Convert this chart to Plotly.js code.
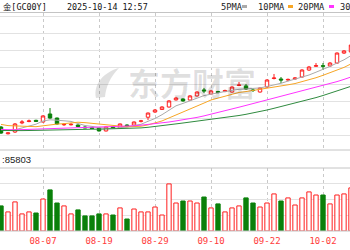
<!DOCTYPE html>
<html><head><meta charset="utf-8">
<script src="https://cdn.plot.ly/plotly-3.0.1.min.js"></script>
<style>html,body{margin:0;padding:0;background:#fff;}#chart{width:350px;height:250px;}</style>
</head><body><div id="chart"></div>
<script>
// ---- data ----
const dates = ['07-30','07-31','08-01','08-04','08-05','08-06','08-07','08-08','08-11','08-12','08-13','08-14','08-15','08-18','08-19','08-20','08-21','08-22','08-25','08-26','08-27','08-28','08-29','09-01','09-02','09-03','09-04','09-05','09-08','09-09','09-10','09-11','09-12','09-15','09-16','09-17','09-18','09-19','09-22','09-23','09-24','09-25','09-26','09-29','09-30','10-01','10-02','10-03','10-06','10-07','10-08'];
const tickDates = ['08-07','08-19','08-29','09-10','09-22','10-02'];
const open  = [3361,3303,3318,3396,3408,3418,3404,3473,3438,3380,3380,3378,3361,3354,3352,3327,3361,3352,3378,3378,3410,3445,3490,3512,3533,3594,3602,3593,3628,3680,3645,3666,3666,3662,3718,3714,3679,3662,3705,3778,3774,3765,3774,3791,3851,3884,3888,3886,3911,3997,4006];
const high  = [3370,3316,3395,3420,3425,3424,3462,3524,3442,3395,3396,3384,3367,3360,3356,3365,3366,3391,3384,3409,3422,3486,3516,3540,3592,3620,3608,3636,3668,3697,3680,3672,3682,3712,3748,3731,3696,3702,3772,3817,3791,3778,3790,3858,3886,3911,3911,3920,4003,4023,4075];
const low   = [3301,3297,3310,3385,3402,3405,3400,3432,3380,3370,3374,3360,3350,3344,3322,3322,3348,3346,3365,3372,3400,3420,3482,3508,3528,3588,3578,3588,3622,3653,3640,3650,3660,3656,3712,3679,3662,3656,3700,3770,3739,3755,3768,3786,3843,3878,3851,3878,3905,3989,4000];
const close = [3309,3310,3387,3404,3413,3410,3456,3438,3387,3384,3384,3365,3354,3349,3327,3361,3352,3387,3370,3404,3413,3481,3507,3533,3585,3610,3585,3628,3662,3671,3671,3658,3675,3705,3722,3688,3675,3696,3765,3782,3765,3770,3782,3851,3877,3888,3884,3911,3997,4015,4066];
const ma5  = [3342.1,3330.0,3336.9,3352.4,3365.3,3385.1,3412.6,3422.9,3419.5,3414.3,3409.2,3391.1,3373.9,3366.2,3355.0,3350.7,3348.1,3355.0,3359.3,3374.8,3384.2,3410.0,3434.1,3466.8,3502.9,3543.3,3564.0,3588.0,3613.8,3631.0,3643.1,3657.7,3666.3,3674.9,3685.2,3688.7,3692.1,3697.3,3709.3,3721.3,3736.8,3755.7,3772.1,3789.3,3808.2,3832.3,3855.5,3882.2,3911.4,3938.9,3975.0];
const ma10 = [3383.4,3373.0,3370.5,3367.9,3364.0,3363.6,3371.3,3379.9,3385.9,3389.8,3397.1,3401.9,3398.4,3392.8,3384.7,3379.9,3369.6,3364.4,3362.7,3364.9,3367.5,3379.1,3394.5,3413.0,3438.8,3463.8,3487.0,3511.1,3540.3,3567.0,3593.2,3610.8,3627.2,3644.4,3658.1,3665.9,3674.9,3681.8,3692.1,3703.3,3712.7,3723.9,3734.7,3749.3,3764.8,3784.6,3805.6,3827.1,3850.3,3873.6,3903.7];
const ma20 = [3339.5,3336.9,3336.9,3338.6,3340.4,3342.1,3344.7,3347.2,3349.0,3350.7,3352.4,3354.1,3355.0,3355.8,3356.7,3358.4,3361.0,3364.4,3367.9,3371.3,3376.5,3382.5,3389.4,3396.3,3404.0,3413.5,3422.1,3431.5,3443.6,3456.5,3470.2,3484.0,3498.6,3514.1,3531.3,3546.8,3562.2,3577.7,3594.9,3611.3,3627.6,3642.2,3656.8,3672.3,3687.8,3702.4,3717.9,3733.4,3751.4,3770.4,3791.0];
const ma30 = [3330.9,3329.2,3329.2,3330.0,3330.9,3332.6,3335.2,3336.9,3338.6,3339.5,3340.4,3341.2,3342.1,3342.1,3342.1,3342.9,3343.8,3345.5,3347.2,3349.8,3353.3,3358.4,3364.4,3371.3,3379.1,3387.7,3395.4,3403.1,3410.0,3416.9,3423.8,3431.5,3440.1,3449.6,3459.9,3470.2,3481.4,3493.4,3507.2,3521.8,3536.4,3551.1,3565.7,3581.2,3597.5,3613.8,3631.9,3650.0,3668.9,3689.5,3711.0];
const volume = [163000,124000,189000,111000,124000,117000,208000,267000,182000,163000,111000,137000,98000,98000,111000,111000,104000,150000,78000,143000,124000,124000,156000,104000,306000,182000,195000,195000,182000,221000,150000,176000,124000,150000,163000,215000,182000,156000,182000,241000,195000,215000,169000,215000,254000,234000,234000,176000,234000,241000,280000];
const maNames = ['5PMA','10PMA','20PMA','30PMA'];
const titleText = '金[GC00Y]';
const titleTime = '2025-10-14 12:57';
const volText = ':85803';
const watermark = '东方财富';

// ---- styles ----
const RED = '#ff1f1f', GREEN = '#0a800a';
const maColors = ['#aaaaaa', '#f7a625', '#ff33ff', '#2f8a3f'];
const W = 350, H = 250;
const px = x => x / W, py = y => 1 - y / H;

const up = close.map((c, i) => c >= open[i]);

const traces = [];
[ma5, ma10, ma20, ma30].forEach((m, k) => {
  traces.push({type: 'scatter', mode: 'lines', x: dates, y: m, xaxis: 'x', yaxis: 'y',
    line: {color: maColors[k], width: 1}, hoverinfo: 'skip'});
});
traces.push({
  type: 'candlestick', x: dates, open: open, high: high, low: low, close: close,
  xaxis: 'x', yaxis: 'y', whiskerwidth: 0,
  increasing: {line: {color: RED, width: 1}, fillcolor: '#ffffff'},
  decreasing: {line: {color: GREEN, width: 1}, fillcolor: GREEN},
  hoverinfo: 'skip'
});
traces.push({
  type: 'bar', x: dates, y: volume, xaxis: 'x', yaxis: 'y2', width: 0.62,
  marker: {color: up.map(u => u ? '#ffffff' : GREEN),
           line: {color: up.map(u => u ? RED : GREEN), width: 1}},
  hoverinfo: 'skip'
});

const mono = 'DejaVu Sans Mono';
const cjkMono = 'DejaVu Sans Mono, Noto Sans CJK SC';
const ann = (text, x, y, opts) => Object.assign({
  text: text, xref: 'paper', yref: 'paper', x: px(x), y: py(y),
  xanchor: 'left', yanchor: 'middle', showarrow: false, borderpad: 0,
  font: {family: mono, size: 8.4, color: '#111'}
}, opts || {});

const annotations = [
  ann(watermark, 192, 82, {xanchor: 'center', font: {family: 'Noto Sans CJK SC', size: 32, color: 'rgba(0,0,0,0.12)', weight: 700}}),
  ann(titleText, 2, 6.5, {font: {family: cjkMono, size: 8.4, color: '#111'}}),
  ann(titleTime, 66, 6.5),
  ann(maNames[0], 220, 6.5, {font: {family: mono, size: 8.7, color: '#222'}}),
  ann(maNames[1], 257, 6.5, {font: {family: mono, size: 8.7, color: '#222'}}),
  ann(maNames[2], 297, 6.5, {font: {family: mono, size: 8.7, color: '#222'}}),
  ann(maNames[3], 339, 6.5, {font: {family: mono, size: 8.7, color: '#222'}}),
  ann(volText, 1, 159, {font: {family: 'Liberation Sans', size: 9.5, color: '#222'}})
];

const hline = (y, c) => ({type: 'line', xref: 'paper', yref: 'paper', x0: 0, x1: 1, y0: py(y), y1: py(y), line: {color: c, width: 1}});
const swatch = (x0, c) => ({type: 'rect', xref: 'paper', yref: 'paper', x0: px(x0), x1: px(x0 + 5), y0: py(8), y1: py(5), line: {width: 0}, fillcolor: c});
const logoPath = 'M ' + px(96) + ' ' + py(98) + ' C ' + px(93) + ' ' + py(84) + ' ' + px(104) + ' ' + py(72) + ' ' + px(119) + ' ' + py(68) +
  ' C ' + px(110) + ' ' + py(77) + ' ' + px(106) + ' ' + py(87) + ' ' + px(105) + ' ' + py(97) + ' Z';
const shapes = [
  hline(12.5, '#c4c4c4'), hline(150, '#c4c4c4'), hline(168, '#c4c4c4'), hline(231, '#c4c4c4'),
  swatch(242, maColors[0]), swatch(288, maColors[1]), swatch(329, maColors[2]),
  {type: 'path', xref: 'paper', yref: 'paper', path: logoPath, fillcolor: 'rgba(0,0,0,0.12)', line: {width: 0}}
];

const layout = {
  width: W, height: H, margin: {l: 0, r: 0, t: 0, b: 0},
  paper_bgcolor: '#ffffff', plot_bgcolor: 'rgba(0,0,0,0)', showlegend: false,
  xaxis: {type: 'category', categoryorder: 'array', categoryarray: dates,
    range: [-0.143, 49.857], anchor: 'y2', tickmode: 'array', tickvals: tickDates, ticktext: tickDates,
    showgrid: true, gridcolor: '#c9c9c9', griddash: '3px,3px', gridwidth: 1,
    tickfont: {family: mono, size: 9, color: '#ff3b3b'}, ticks: '', ticklabelstandoff: 3,
    showline: false, zeroline: false, rangeslider: {visible: false}, fixedrange: true},
  yaxis: {domain: [0.4, 0.95], range: [3163.2, 4345.7], tick0: 3287.9, dtick: 145.8,
    showticklabels: false, gridcolor: '#e2e2e2', zeroline: false, showline: false, fixedrange: true},
  yaxis2: {domain: [0.076, 0.328], range: [0, 409500], tick0: 0, dtick: 102375,
    showticklabels: false, gridcolor: '#e2e2e2', zeroline: false, showline: false, fixedrange: true},
  shapes: shapes, annotations: annotations
};

Plotly.newPlot('chart', traces, layout, {staticPlot: true, displayModeBar: false});
</script>
</body></html>
